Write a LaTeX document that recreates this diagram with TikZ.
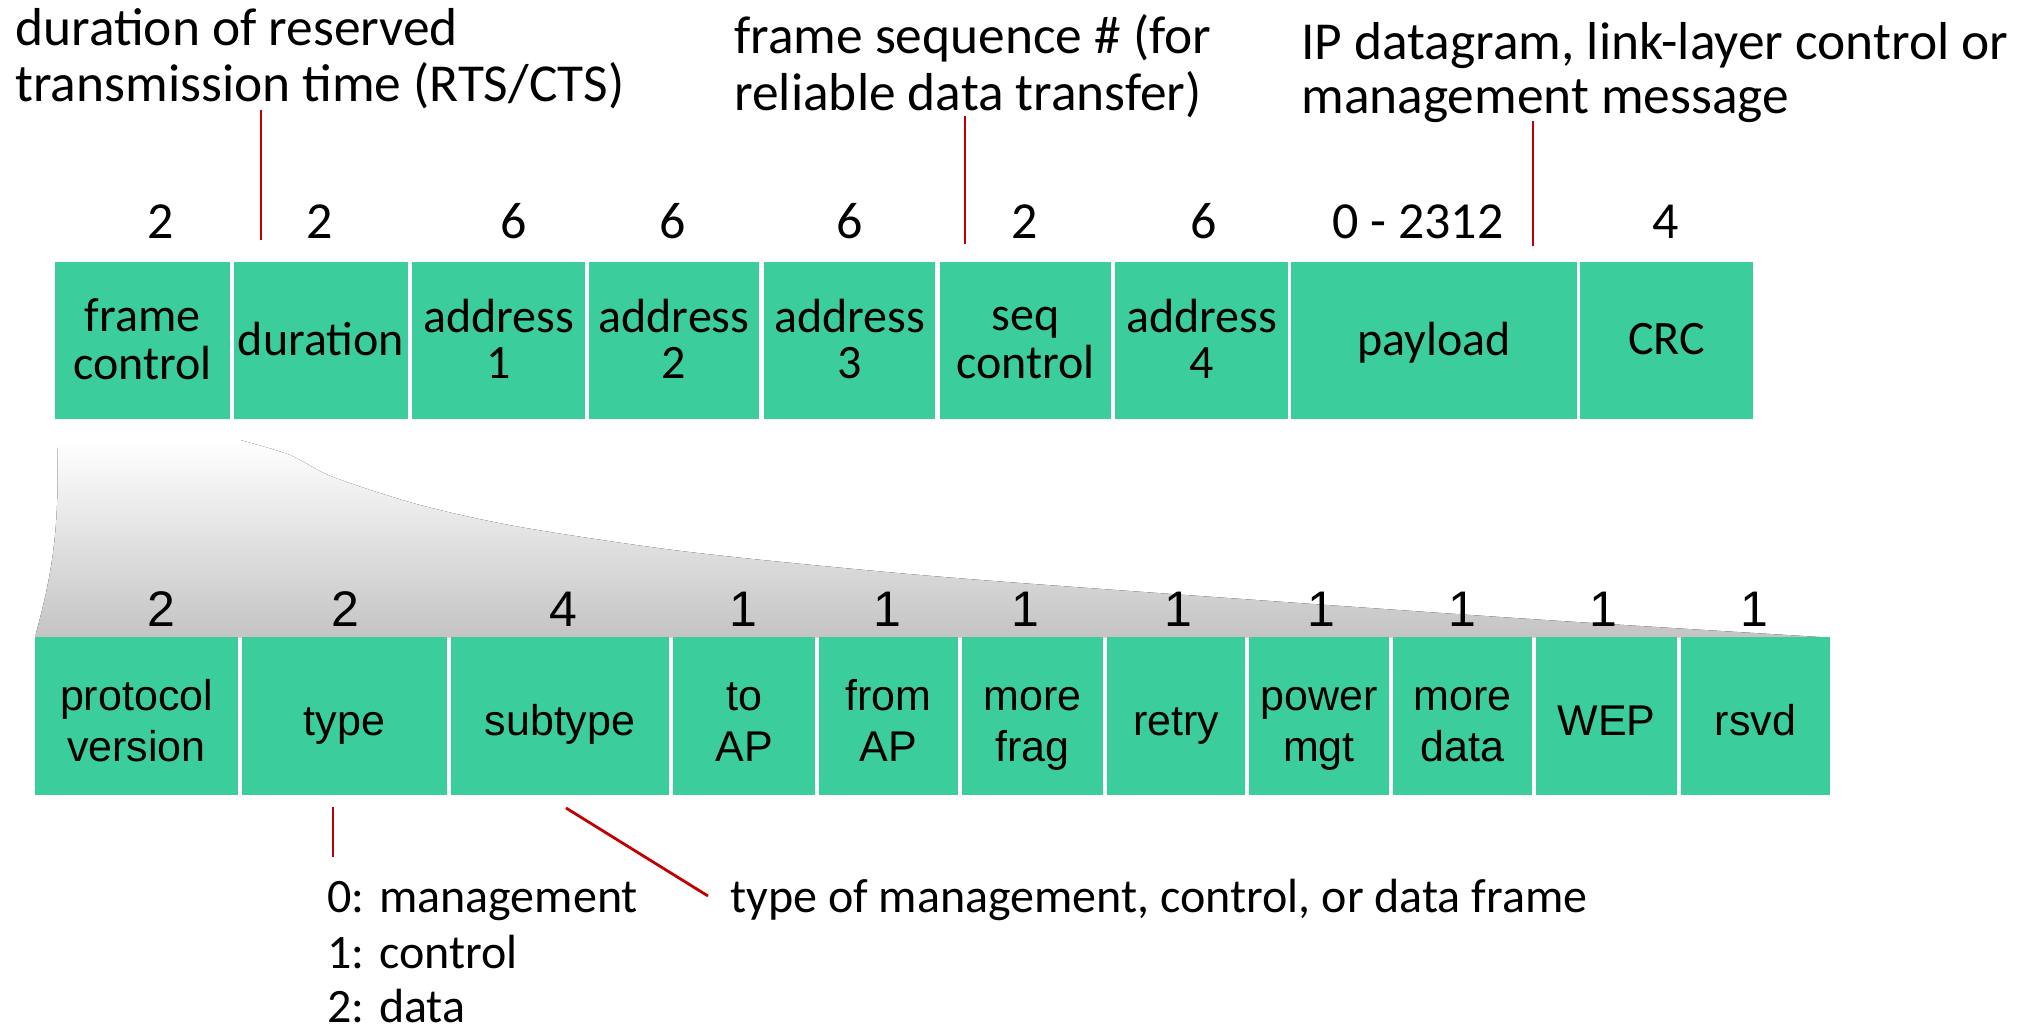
\documentclass[tikz,border=0pt]{standalone}
\usepackage{fontspec}
\usetikzlibrary{fit}
\newfontfamily\calfont{Carlito}
\newfontfamily\arifont{Liberation Sans}
\definecolor{fgreen}{RGB}{59,205,155}
\definecolor{cred}{RGB}{192,0,0}
\definecolor{shgray}{RGB}{196,196,196}
\begin{document}
\begin{tikzpicture}[x=0.5pt,y=-0.5pt,
  tbox/.style={fill=fgreen, inner sep=0pt},
  bbox/.style={fill=fgreen, inner sep=0pt},
  tlab/.style={inner sep=0pt, align=center, font=\calfont\fontsize{24}{22}\selectfont},
  blab/.style={inner sep=0pt, align=center, font=\arifont\fontsize{21.5}{25.5}\selectfont},
  tnum/.style={inner sep=0pt, anchor=base, font=\calfont\fontsize{26}{27}\selectfont},
  bnum/.style={inner sep=0pt, anchor=base, font=\arifont\fontsize{25}{27}\selectfont},
  annot/.style={inner sep=0pt, anchor=base west, font=\calfont\fontsize{26.7}{27}\selectfont},
  bannot/.style={inner sep=0pt, anchor=base west, font=\calfont\fontsize{24}{28}\selectfont},
  callout/.style={draw=cred, line width=1.4pt}]
\useasboundingbox (0,0) rectangle (2034,1028);

% gray expansion shape
\fill[top color=white, bottom color=shgray]
  (57,440) -- plot[smooth, tension=0.5] coordinates {(240,440) (290,455) (333,477) (420,505) (520,527) (673,550) (833,567) (1020,583) (1500,617) (1820,637)}
  -- (35,637) .. controls (52,575) and (60,530) .. (57,440) -- cycle;

% top row
\node[tbox, fit={(55,262)(230,419)}] (fc) {};
\node[tbox, fit={(234,262)(408,419)}] (dur) {};
\node[tbox, fit={(412,262)(585,419)}] (a1) {};
\node[tbox, fit={(589,262)(759,419)}] (a2) {};
\node[tbox, fit={(764,262)(935,419)}] (a3) {};
\node[tbox, fit={(940,262)(1111,419)}] (seq) {};
\node[tbox, fit={(1115,262)(1288,419)}] (a4) {};
\node[tbox, fit={(1291,262)(1577,419)}] (pl) {};
\node[tbox, fit={(1580,262)(1753,419)}] (crc) {};

\node[tlab] (fcl) at ([yshift=-2.5pt]fc.center) {\strut frame\\\strut control};
\node[tlab] (durl) at ([yshift=-2.7pt]dur.center) {\strut duration};
\node[tlab] (a1l) at ([yshift=-2.5pt]a1.center) {\strut address\\\strut 1};
\node[tlab] (a2l) at ([yshift=-2.5pt]a2.center) {\strut address\\\strut 2};
\node[tlab] (a3l) at ([yshift=-2.5pt]a3.center) {\strut address\\\strut 3};
\node[tlab] (seql) at ([yshift=-2.5pt]seq.center) {\strut seq\\\strut control};
\node[tlab] (a4l) at ([yshift=-2.5pt]a4.center) {\strut address\\\strut 4};
\node[tlab] (pll) at ([yshift=-2.7pt]pl.center) {\strut payload};
\node[tlab] (crcl) at ([yshift=-2.7pt]crc.center) {\strut CRC};

% top sizes
\node[tnum] (n1) at (161,238) {2};
\node[tnum] (n2) at (320,238) {2};
\node[tnum] (n3) at (514,238) {6};
\node[tnum] (n4) at (673,238) {6};
\node[tnum] (n5) at (850,238) {6};
\node[tnum] (n6) at (1025,238) {2};
\node[tnum] (n7) at (1204,238) {6};
\node[tnum] (n8) at (1418,238) {0 - 2312};
\node[tnum] (n9) at (1666,238) {4};

% top annotations
\node[annot] (t1a) at (15,46) {duration of reserved};
\node[annot] (t1b) at (15,101) {transmission time (RTS/CTS)};
\node[annot] (t2a) at (734,54) {frame sequence \# (for};
\node[annot] (t2b) at (734,110) {reliable data transfer)};
\node[annot] (t3a) at (1301,59) {IP datagram, link-layer control or};
\node[annot] (t3b) at (1301,113) {management message};

\coordinate (c1a) at (261,110); \coordinate (c1b) at (261,240);
\coordinate (c2a) at (965,116); \coordinate (c2b) at (965,244);
\coordinate (c3a) at (1533,121); \coordinate (c3b) at (1533,246);
\draw[callout] (c1a) -- (c1b);
\draw[callout] (c2a) -- (c2b);
\draw[callout] (c3a) -- (c3b);

% bottom row
\node[bbox, fit={(35,637)(238,795)}] (pv) {};
\node[bbox, fit={(242,637)(447,795)}] (ty) {};
\node[bbox, fit={(451,637)(669,795)}] (st) {};
\node[bbox, fit={(673,637)(815,795)}] (toap) {};
\node[bbox, fit={(819,637)(958,795)}] (frap) {};
\node[bbox, fit={(962,637)(1103,795)}] (mf) {};
\node[bbox, fit={(1107,637)(1245,795)}] (re) {};
\node[bbox, fit={(1249,637)(1389,795)}] (pm) {};
\node[bbox, fit={(1393,637)(1532,795)}] (md) {};
\node[bbox, fit={(1536,637)(1677,795)}] (wep) {};
\node[bbox, fit={(1681,637)(1830,795)}] (rs) {};

\node[blab] (pvl) at ([yshift=-4.8pt]pv.center) {\strut protocol\\\strut version};
\node[blab] (tyl) at ([yshift=-4.6pt]ty.center) {\strut type};
\node[blab] (stl) at ([yshift=-4.6pt]st.center) {\strut subtype};
\node[blab] (toapl) at ([yshift=-4.8pt]toap.center) {\strut to\\\strut AP};
\node[blab] (frapl) at ([yshift=-4.8pt]frap.center) {\strut from\\\strut AP};
\node[blab] (mfl) at ([yshift=-4.8pt]mf.center) {\strut more\\\strut frag};
\node[blab] (rel) at ([yshift=-4.6pt]re.center) {\strut retry};
\node[blab] (pml) at ([yshift=-4.8pt]pm.center) {\strut power\\\strut mgt};
\node[blab] (mdl) at ([yshift=-4.8pt]md.center) {\strut more\\\strut data};
\node[blab] (wepl) at ([yshift=-4.6pt]wep.center) {\strut WEP};
\node[blab] (rsl) at ([yshift=-4.6pt]rs.center) {\strut rsvd};

% bottom sizes
\node[bnum] (m1) at (161,626) {2};
\node[bnum] (m2) at (345,626) {2};
\node[bnum] (m3) at (563,626) {4};
\node[bnum] (m4) at (743,626) {1};
\node[bnum] (m5) at (887,626) {1};
\node[bnum] (m6) at (1025,626) {1};
\node[bnum] (m7) at (1178,626) {1};
\node[bnum] (m8) at (1321,626) {1};
\node[bnum] (m9) at (1462,626) {1};
\node[bnum] (m10) at (1603,626) {1};
\node[bnum] (m11) at (1754,626) {1};

% bottom annotations
\node[bannot] (b1a) at (327,912) {0: management};
\node[bannot] (b1b) at (327,968) {1: control};
\node[bannot] (b1c) at (327,1022) {2: data};
\node[bannot] (b2) at (730,912) {type of management, control, or data frame};

\coordinate (d1a) at (333,807); \coordinate (d1b) at (333,857);
\coordinate (d2a) at (566,808); \coordinate (d2b) at (708,896);
\draw[callout] (d1a) -- (d1b);
\draw[callout] (d2a) -- (d2b);
\end{tikzpicture}
\end{document}
